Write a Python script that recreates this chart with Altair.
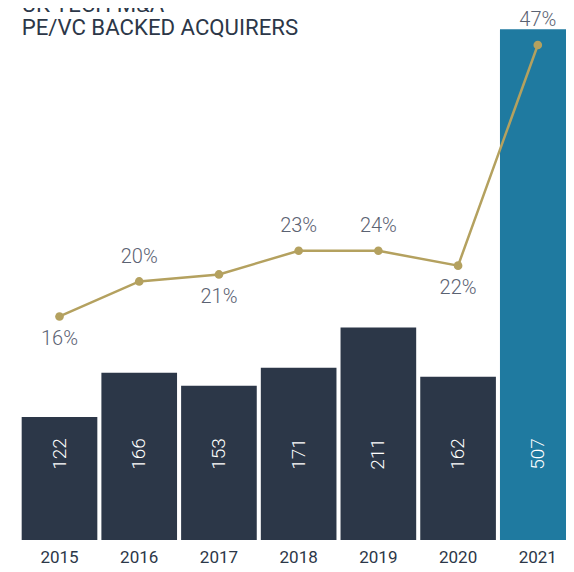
import altair as alt
import pandas as pd

years = ["2015", "2016", "2017", "2018", "2019", "2020", "2021"]
deals = [122, 166, 153, 171, 211, 162, 507]
pe_share = [16.0, 20.0, 20.8, 23.5, 23.5, 21.8, 47.0]
share_labels = ["16%", "20%", "21%", "23%", "24%", "22%", "47%"]
label_side = ["below", "above", "below", "above", "above", "below", "above"]
title_lines = ["UK TECH M&A", "PE/VC BACKED ACQUIRERS"]
highlight_year = "2021"

NAVY = "#2c3748"
TEAL = "#1f7aa0"
GOLD = "#b4a15f"
GREY = "#5b6272"
FONT = "Roboto"

df = pd.DataFrame({
    "year": years,
    "deals": deals,
    "share": pe_share,
    "share_label": share_labels,
    "side": label_side,
})

x = alt.X(
    "year:N",
    sort=years,
    scale=alt.Scale(paddingInner=0.051, paddingOuter=0.0255, range=[0, 558]),
    axis=alt.Axis(
        title=None, labelAngle=0, domain=False, ticks=False, grid=False,
        labelPadding=9, labelFont=FONT, labelFontSize=17,
        labelColor=NAVY, labelFontWeight="normal",
    ),
)

y_bar = alt.Y("deals:Q", scale=alt.Scale(domain=[0, 528], nice=False, zero=True), axis=None)
y_line = alt.Y("share:Q", scale=alt.Scale(domain=[-9.52, 51.22], nice=False, zero=False), axis=None)

base = alt.Chart(df)

bars = base.mark_bar().encode(
    x=x,
    y=y_bar,
    color=alt.condition(alt.datum.year == highlight_year, alt.value(TEAL), alt.value(NAVY)),
)

bar_labels = base.mark_text(
    angle=270, color="white", font=FONT, fontWeight=300, fontSize=19,
    align="center", baseline="middle",
).encode(x=x, y=alt.value(446), text=alt.Text("deals:Q"))

bar_layer = alt.layer(bars, bar_labels)

line = base.mark_line(color=GOLD, strokeWidth=2.5).encode(x=x, y=y_line)
points = base.mark_circle(color=GOLD, size=75, opacity=1).encode(x=x, y=y_line)
labels_above = base.transform_filter(alt.datum.side == "above").mark_text(
    dy=-24.5, color=GREY, font=FONT, fontWeight=300, fontSize=20,
    align="center", baseline="middle",
).encode(x=x, y=y_line, text="share_label:N")
labels_below = base.transform_filter(alt.datum.side == "below").mark_text(
    dy=22.5, color=GREY, font=FONT, fontWeight=300, fontSize=20,
    align="center", baseline="middle",
).encode(x=x, y=y_line, text="share_label:N")

line_layer = alt.layer(line, points, labels_above, labels_below)

title1 = alt.Chart(pd.DataFrame({"t": [title_lines[0]]})).mark_text(
    align="left", baseline="alphabetic", font=FONT, fontSize=22.2, color=NAVY,
).encode(x=alt.value(2), y=alt.value(4), text="t:N")
title2 = alt.Chart(pd.DataFrame({"t": [title_lines[1]]})).mark_text(
    align="left", baseline="alphabetic", font=FONT, fontSize=22.2, color=NAVY,
).encode(x=alt.value(2), y=alt.value(27), text="t:N")

chart = alt.layer(bar_layer, line_layer, title1, title2).resolve_scale(
    y="independent"
).properties(
    width=546,
    height=532,
    background="white",
    autosize=alt.AutoSizeParams(type="none"),
    padding={"left": 11.65, "top": 0, "right": 0.35, "bottom": 24},
).configure_view(strokeWidth=0, stroke="transparent")

chart.save("out.html", embed_options={"renderer": "svg", "actions": False})
